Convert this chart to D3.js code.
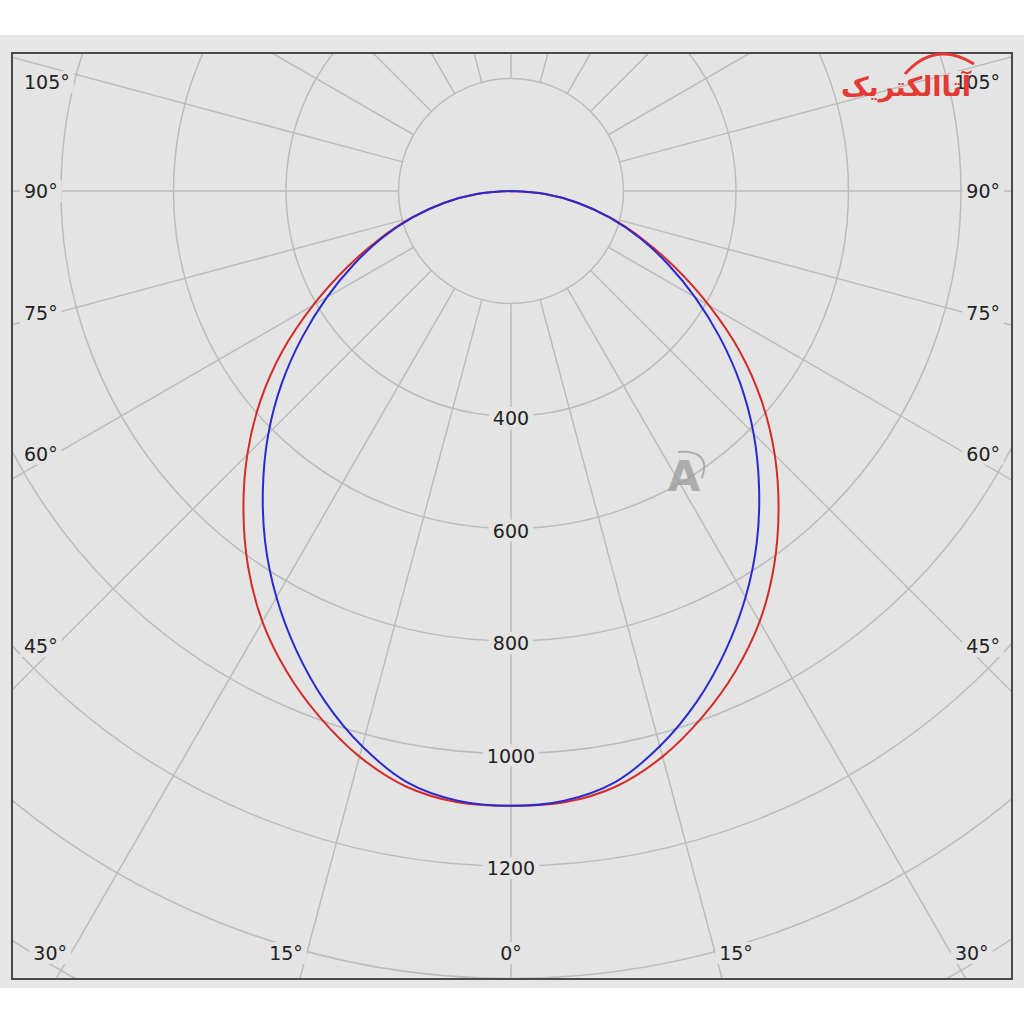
<!DOCTYPE html>
<html>
<head>
<meta charset="utf-8">
<script src="https://cdn.jsdelivr.net/npm/d3@7"></script>
<style>
  body { margin: 0; background: #fff; }
  text { font-family: "DejaVu Sans", Verdana, sans-serif; }
</style>
</head>
<body>
<div id="chart"></div>
<script>
// polar intensity data (cd), angle from nadir, symmetric planes
const angleDeg  = [0, 5, 10, 15, 20, 25, 30, 35, 40, 45, 50, 55, 60, 65, 70, 75, 80, 85, 90];
const redValues = [1093, 1091, 1075, 1041, 995, 943, 884, 815, 740, 663, 582, 496, 406, 322, 248, 182, 120, 61, 0];
const blueValues = [1093, 1088, 1067, 1022, 966, 902, 834, 762, 686, 610, 532, 453, 378, 308, 244, 181, 120, 61, 0];
const radialTicks = [400, 600, 800, 1000, 1200];
const angleTicks = [0, 15, 30, 45, 60, 75, 90, 105];
const gridRings = [200, 400, 600, 800, 1000, 1200, 1400, 1600, 1800];

// Set dimensions
var width = 1024, height = 1024;
var frame = {x: 12, y: 53, w: 1000, h: 926};
var cx = 511, cy = 191;

const r = d3.scaleLinear().domain([0, 1000]).range([0, 562.5]);

var svg = d3.select("#chart")
    .append("svg")
    .attr("width", width)
    .attr("height", height);

svg.append("rect").attr("width", width).attr("height", height).attr("fill", "#fff");
svg.append("rect").attr("x", 0).attr("y", 35).attr("width", width).attr("height", 953).attr("fill", "#e6e6e6");
svg.append("rect").attr("x", frame.x).attr("y", frame.y).attr("width", frame.w).attr("height", frame.h).attr("fill", "#e4e4e4");

svg.append("clipPath").attr("id", "clip")
    .append("rect").attr("x", frame.x).attr("y", frame.y).attr("width", frame.w).attr("height", frame.h);

var clipped = svg.append("g").attr("clip-path", "url(#clip)");
var plot = clipped.append("g").attr("transform", `translate(${cx},${cy})`);

// grid rings
plot.selectAll("circle.ring")
    .data(gridRings)
    .join("circle")
    .attr("class", "ring")
    .attr("r", d => r(d))
    .attr("fill", "none")
    .attr("stroke", "#bcbcbc")
    .attr("stroke-width", 1.5);

// spokes every 15 degrees, starting at the inner ring
const rad = d => d * Math.PI / 180;
plot.selectAll("line.spoke")
    .data(d3.range(0, 360, 15))
    .join("line")
    .attr("class", "spoke")
    .attr("x1", d => Math.sin(rad(d)) * r(200))
    .attr("y1", d => Math.cos(rad(d)) * r(200))
    .attr("x2", d => Math.sin(rad(d)) * r(2000))
    .attr("y2", d => Math.cos(rad(d)) * r(2000))
    .attr("stroke", "#bcbcbc")
    .attr("stroke-width", 1.5);

// label with background box
var labels = svg.append("g");
function addLabel(x, y, txt, anchor) {
    var g = labels.append("g");
    var t = g.append("text")
        .attr("x", x).attr("y", y)
        .attr("text-anchor", anchor)
        .attr("dominant-baseline", "central")
        .attr("font-size", "19px")
        .attr("fill", "#222")
        .text(txt);
    var b = t.node().getBBox();
    g.insert("rect", "text")
        .attr("x", b.x - 4).attr("y", b.y)
        .attr("width", b.width + 8).attr("height", b.height)
        .attr("fill", "#e4e4e4");
}

// radial value labels along the 0 degree line
radialTicks.forEach(v => addLabel(cx, cy + r(v) + 2, v, "middle"));

// angle labels around the frame
var sideDx = 455, botDy = 762;
angleTicks.forEach(a => {
    if (a === 0) { addLabel(cx, cy + botDy, "0°", "middle"); return; }
    [-1, 1].forEach(s => {
        var sn = Math.sin(rad(a)), cs = Math.cos(rad(a));
        var tSide = sideDx / sn;
        var tBot = cs > 0 ? botDy / cs : Infinity;
        if (tSide < tBot) {
            var y = Math.max(cy + tSide * cs, frame.y + 29);
            if (s < 0) addLabel(24, y, a + "°", "start");
            else addLabel(1000, y, a + "°", "end");
        } else {
            var xc = cx + s * botDy * Math.tan(rad(a));
            addLabel(xc + s * 4, cy + botDy, a + "°", s < 0 ? "end" : "start");
        }
    });
});

// intensity curves
function fullCurve(vals) {
    var pts = [];
    for (let i = angleDeg.length - 1; i > 0; i--) pts.push({a: -angleDeg[i], v: vals[i]});
    for (let i = 0; i < angleDeg.length; i++) pts.push({a: angleDeg[i], v: vals[i]});
    return pts;
}
const radial = d3.lineRadial()
    .angle(d => Math.PI - rad(d.a))
    .radius(d => r(d.v))
    .curve(d3.curveCatmullRom);

plot.append("path").datum(fullCurve(redValues))
    .attr("d", radial).attr("fill", "none")
    .attr("stroke", "#d42a2a").attr("stroke-width", 2);
plot.append("path").datum(fullCurve(blueValues))
    .attr("d", radial).attr("fill", "none")
    .attr("stroke", "#2a2ad0").attr("stroke-width", 2);

// frame
svg.append("rect")
    .attr("x", frame.x).attr("y", frame.y).attr("width", frame.w).attr("height", frame.h)
    .attr("fill", "none").attr("stroke", "#4a4a4a").attr("stroke-width", 2);

// watermarks
var logo = svg.append("g");
logo.append("path")
    .attr("d", "M905,74 Q935,40 974,64")
    .attr("fill", "none").attr("stroke", "#e53935").attr("stroke-width", 3);
logo.append("text")
    .attr("x", 906).attr("y", 86)
    .attr("text-anchor", "middle").attr("dominant-baseline", "central")
    .attr("font-size", "27px").attr("font-weight", "bold")
    .attr("fill", "#e53935")
    .text("آتاالکتریک");

var mark = svg.append("g").attr("opacity", 0.75);
mark.append("text")
    .attr("x", 684).attr("y", 476)
    .attr("text-anchor", "middle").attr("dominant-baseline", "central")
    .attr("font-size", "42px").attr("font-weight", "bold")
    .attr("fill", "#9a9a9a")
    .text("A");
mark.append("path")
    .attr("d", "M678,452 Q712,450 702,478")
    .attr("fill", "none").attr("stroke", "#9a9a9a").attr("stroke-width", 2);
</script>
</body>
</html>
